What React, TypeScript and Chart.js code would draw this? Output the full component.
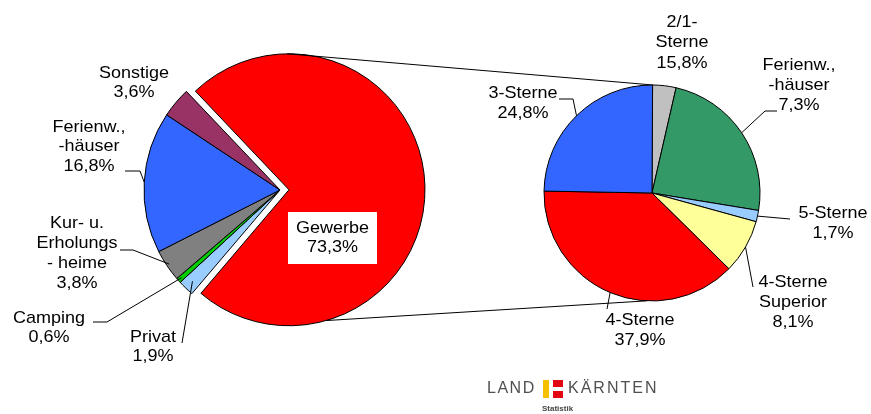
import React, { useEffect, useRef } from "react";
import { Chart, registerables } from "chart.js";

Chart.register(...registerables);

// ---------- data ----------
const leftCategories = ["Gewerbe", "Privat", "Camping", "Kur- u.\nErholungs\n- heime", "Ferienw.,\n-häuser", "Sonstige"];
const leftShares = [73.3, 1.9, 0.6, 3.8, 16.8, 3.6];
const leftColors = ["#FF0000", "#99CCFF", "#00CC00", "#808080", "#3366FF", "#993366"];

const rightCategories = ["2/1-\nSterne", "Ferienw.,\n-häuser", "5-Sterne", "4-Sterne\nSuperior", "4-Sterne", "3-Sterne"];
const rightShares = [3.5, 24.0, 1.7, 8.1, 37.9, 24.8]; // slice sizes as drawn
const rightPrinted = ["15,8%", "7,3%", "1,7%", "8,1%", "37,9%", "24,8%"]; // values as printed
const rightColors = ["#C0C0C0", "#339966", "#99CCFF", "#FFFF99", "#FF0000", "#3366FF"];

// ---------- layout ----------
const W = 871;
const H = 414;
const LEFT = { cx: 280, cy: 190, r: 136, rotation: -43.5, explode: 9 };
const RIGHT = { cx: 652, cy: 193, r: 108, rotation: 0.3 };
const FONT = '17px "Liberation Sans", Arial, sans-serif';
const SCALE_X = 1.06;

type Lay = { x: number; y: number; lh: number; box?: boolean; path?: number[][]; rf?: number };

const leftLabelLayout: Lay[] = [
  { x: 332.5, y: 228.5, lh: 19, box: true },
  { x: 153, y: 337, lh: 19.5, path: [[182, 343]], rf: 0.93 },
  { x: 49, y: 318, lh: 19.5, path: [[93, 322], [107, 322]], rf: 0.97 },
  { x: 77, y: 223, lh: 20, path: [[120, 250], [133, 250]], rf: 0.98 },
  { x: 89, y: 127, lh: 19.5, path: [[125, 171], [140, 171]], rf: 1.0 },
  { x: 134, y: 73, lh: 19.5 },
];

const rightLabelLayout: Lay[] = [
  { x: 682, y: 22, lh: 20.5 },
  { x: 799, y: 65, lh: 20, path: [[777, 111], [765, 111]], rf: 1 },
  { x: 833, y: 213, lh: 20, path: [[790, 219]], rf: 1 },
  { x: 793, y: 282, lh: 20, path: [[753, 287]], rf: 1 },
  { x: 640, y: 320, lh: 20, path: [[607, 309]], rf: 1 },
  { x: 523, y: 93, lh: 20, path: [[559, 99], [573, 99]], rf: 1 },
];

const connectorLayout = [
  { leftAngle: -90.8, rightAngle: -89.5 },
  { leftAngle: 74.1, rightAngle: 92.8 },
];

const fmt = (v: number) => v.toFixed(1).replace(".", ",") + "%";
const rad = (d: number) => (d * Math.PI) / 180;

function explodedCenter() {
  const total = leftShares.reduce((a, b) => a + b, 0);
  const start = LEFT.rotation - 90;
  const mid = start + ((leftShares[0] / total) * 360) / 2;
  return { cx: LEFT.cx + Math.cos(rad(mid)) * LEFT.explode, cy: LEFT.cy + Math.sin(rad(mid)) * LEFT.explode };
}

function padFor(cx: number, cy: number) {
  return {
    left: cx < W / 2 ? 0 : 2 * cx - W,
    right: cx < W / 2 ? W - 2 * cx : 0,
    top: cy < H / 2 ? 0 : 2 * cy - H,
    bottom: cy < H / 2 ? H - 2 * cy : 0,
  };
}

function drawLines(ctx: CanvasRenderingContext2D, lines: string[], x: number, y: number, lh: number) {
  ctx.save();
  ctx.font = FONT;
  ctx.fillStyle = "#000";
  ctx.textAlign = "center";
  ctx.textBaseline = "middle";
  lines.forEach((t, k) => {
    ctx.save();
    ctx.translate(x, y + k * lh);
    ctx.scale(SCALE_X, 1);
    ctx.fillText(t, 0, 0);
    ctx.restore();
  });
  ctx.restore();
}

function drawLeader(ctx: CanvasRenderingContext2D, arc: any, lay: Lay) {
  if (!lay.path) return;
  const mid = (arc.startAngle + arc.endAngle) / 2;
  const r = arc.outerRadius * (lay.rf ?? 1);
  const ex = arc.x + Math.cos(mid) * r;
  const ey = arc.y + Math.sin(mid) * r;
  ctx.save();
  ctx.strokeStyle = "#000";
  ctx.lineWidth = 1;
  ctx.beginPath();
  lay.path.forEach((p, k) => (k === 0 ? ctx.moveTo(p[0], p[1]) : ctx.lineTo(p[0], p[1])));
  ctx.lineTo(ex, ey);
  ctx.stroke();
  ctx.restore();
}

const leftLabelsPlugin = {
  id: "leftLabels",
  afterDatasetsDraw(chart: any) {
    const ctx = chart.ctx as CanvasRenderingContext2D;
    const arcs = chart.getDatasetMeta(0).data;
    leftLabelLayout.forEach((lay, i) => {
      const lines = [...leftCategories[i].split("\n"), fmt(leftShares[i])];
      if (lay.box) {
        ctx.save();
        ctx.fillStyle = "#FFFFFF";
        ctx.fillRect(lay.x - 44.5, lay.y - 16.5, 89, 52);
        ctx.restore();
      }
      drawLeader(ctx, arcs[i], lay);
      drawLines(ctx, lines, lay.x, lay.y, lay.lh);
    });
  },
};

const rightPlugin = {
  id: "rightLabels",
  beforeDatasetsDraw(chart: any) {
    const ctx = chart.ctx as CanvasRenderingContext2D;
    const arc = chart.getDatasetMeta(0).data[0];
    const rc = explodedCenter();
    ctx.save();
    ctx.strokeStyle = "#000";
    ctx.lineWidth = 1;
    connectorLayout.forEach((c) => {
      ctx.beginPath();
      ctx.moveTo(rc.cx + Math.cos(rad(c.leftAngle)) * LEFT.r, rc.cy + Math.sin(rad(c.leftAngle)) * LEFT.r);
      ctx.lineTo(arc.x + Math.cos(rad(c.rightAngle)) * arc.outerRadius, arc.y + Math.sin(rad(c.rightAngle)) * arc.outerRadius);
      ctx.stroke();
    });
    ctx.restore();
  },
  afterDatasetsDraw(chart: any) {
    const ctx = chart.ctx as CanvasRenderingContext2D;
    const arcs = chart.getDatasetMeta(0).data;
    rightLabelLayout.forEach((lay, i) => {
      const lines = [...rightCategories[i].split("\n"), rightPrinted[i]];
      drawLeader(ctx, arcs[i], lay);
      drawLines(ctx, lines, lay.x, lay.y, lay.lh);
    });
  },
};

function makePie(
  canvas: HTMLCanvasElement,
  labels: string[],
  values: number[],
  colors: string[],
  borders: number[],
  cx: number,
  cy: number,
  radius: number,
  rotation: number,
  plugins: any[]
) {
  return new Chart(canvas, {
    type: "pie",
    data: {
      labels,
      datasets: [
        {
          data: values,
          backgroundColor: colors,
          borderColor: "#000000",
          borderWidth: borders,
        },
      ],
    },
    options: {
      responsive: false,
      maintainAspectRatio: false,
      animation: false,
      events: [],
      radius,
      rotation,
      layout: { padding: padFor(cx, cy) },
      plugins: { legend: { display: false }, tooltip: { enabled: false }, title: { display: false } },
    } as any,
    plugins,
  });
}

const canvasStyle: React.CSSProperties = { position: "absolute", left: 0, top: 0, width: W, height: H };

export default function App() {
  const redRef = useRef<HTMLCanvasElement>(null);
  const baseRef = useRef<HTMLCanvasElement>(null);
  const rightRef = useRef<HTMLCanvasElement>(null);

  useEffect(() => {
    const ec = explodedCenter();
    const T = "rgba(0,0,0,0)";
    const red = makePie(
      redRef.current!,
      leftCategories,
      leftShares,
      leftColors.map((c, i) => (i === 0 ? c : T)),
      leftShares.map((_, i) => (i === 0 ? 1 : 0)),
      ec.cx,
      ec.cy,
      LEFT.r,
      LEFT.rotation,
      []
    );
    const base = makePie(
      baseRef.current!,
      leftCategories,
      leftShares,
      leftColors.map((c, i) => (i === 0 ? T : c)),
      leftShares.map((_, i) => (i === 0 ? 0 : 1)),
      LEFT.cx,
      LEFT.cy,
      LEFT.r,
      LEFT.rotation,
      [leftLabelsPlugin]
    );
    const right = makePie(
      rightRef.current!,
      rightCategories,
      rightShares,
      rightColors,
      rightShares.map(() => 1),
      RIGHT.cx,
      RIGHT.cy,
      RIGHT.r,
      RIGHT.rotation,
      [rightPlugin]
    );
    return () => {
      red.destroy();
      base.destroy();
      right.destroy();
    };
  }, []);

  const logoFont = '16px "Liberation Sans", Arial, sans-serif';
  return (
    <div style={{ position: "fixed", left: 0, top: 0, width: W, height: H, background: "#fff", overflow: "hidden" }}>
      <canvas ref={redRef} width={W} height={H} style={canvasStyle} />
      <canvas ref={baseRef} width={W} height={H} style={canvasStyle} />
      <canvas ref={rightRef} width={W} height={H} style={canvasStyle} />
      <div style={{ position: "absolute", left: 487, top: 380, font: logoFont, lineHeight: "16px", color: "#505050", letterSpacing: "1.5px" }}>
        LAND
      </div>
      <div style={{ position: "absolute", left: 543, top: 380, width: 6, height: 18, background: "#F5C000" }} />
      <div style={{ position: "absolute", left: 553, top: 380, width: 10, height: 7, background: "#E30613" }} />
      <div style={{ position: "absolute", left: 553, top: 391, width: 10, height: 7, background: "#E30613" }} />
      <div style={{ position: "absolute", left: 568, top: 380, font: logoFont, lineHeight: "16px", color: "#505050", letterSpacing: "2px" }}>
        KÄRNTEN
      </div>
      <div style={{ position: "absolute", left: 542, top: 404, font: 'bold 8px "Liberation Sans", Arial, sans-serif', color: "#444", lineHeight: "10px" }}>
        Statistik
      </div>
    </div>
  );
}
